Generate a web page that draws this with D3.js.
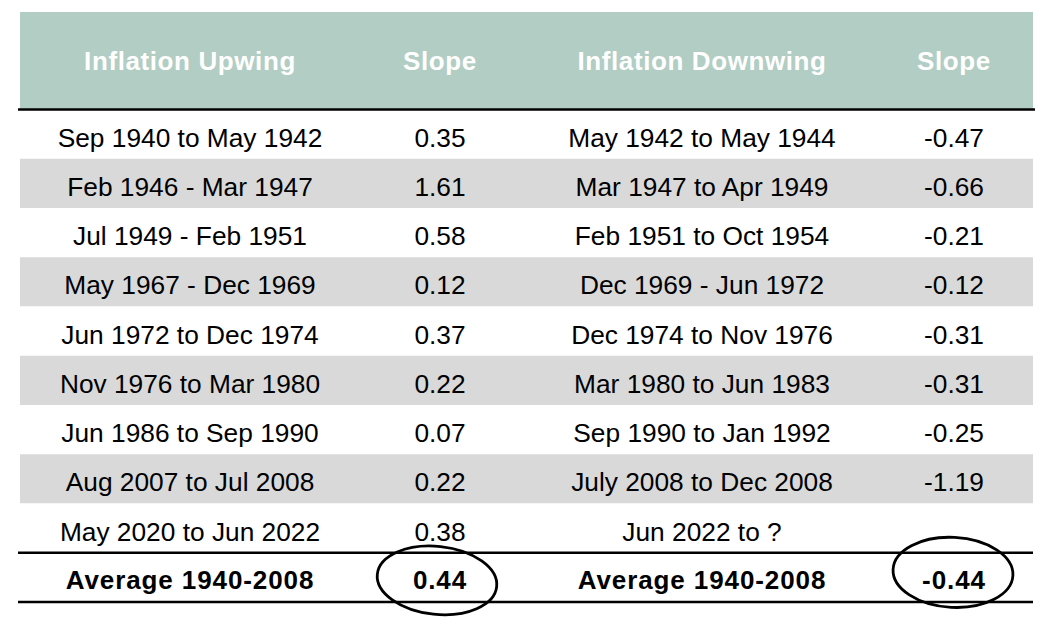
<!DOCTYPE html>
<html><head><meta charset="utf-8">
<script src="https://cdn.jsdelivr.net/npm/d3@7"></script>
<style>
html,body{margin:0;padding:0;background:#fff;}
svg{display:block;font-family:"Liberation Sans",Arial,sans-serif;}
</style></head>
<body><svg id="chart" width="1055" height="626"></svg>
<script>
const headers = ["Inflation Upwing", "Slope", "Inflation Downwing", "Slope"];
const upPeriods = ["Sep 1940 to May 1942","Feb 1946 - Mar 1947","Jul 1949 - Feb 1951","May 1967 - Dec 1969","Jun 1972 to Dec 1974","Nov 1976 to Mar 1980","Jun 1986 to Sep 1990","Aug 2007 to Jul 2008","May 2020 to Jun 2022"];
const upSlopes = ["0.35","1.61","0.58","0.12","0.37","0.22","0.07","0.22","0.38"];
const downPeriods = ["May 1942 to May 1944","Mar 1947 to Apr 1949","Feb 1951 to Oct 1954","Dec 1969 - Jun 1972","Dec 1974 to Nov 1976","Mar 1980 to Jun 1983","Sep 1990 to Jan 1992","July 2008 to Dec 2008","Jun 2022 to ?"];
const downSlopes = ["-0.47","-0.66","-0.21","-0.12","-0.31","-0.31","-0.25","-1.19",""];
const averageRow = ["Average 1940-2008","0.44","Average 1940-2008","-0.44"];

const svg = d3.select("#chart");
const left = 20, right = 1033;
const colKeys = ["c0","c1","c2","c3"];
const colX = d3.scaleOrdinal().domain(colKeys).range([190, 440, 702, 954]);

const rows = upPeriods.map((d,i)=>[d, upSlopes[i], downPeriods[i], downSlopes[i]]);
const nRows = rows.length + 1;
const y = d3.scaleBand().domain(d3.range(nRows)).range([109.5, 602]).padding(0);

// header
svg.append("rect").attr("x",left).attr("y",12).attr("width",right-left).attr("height",97).attr("fill","#b2cdc3");
svg.selectAll("text.hdr").data(headers).join("text").attr("class","hdr")
  .attr("x",(d,i)=>colX(colKeys[i])).attr("y",61).attr("text-anchor","middle").attr("dominant-baseline","central")
  .attr("font-size",26).attr("font-weight","bold").attr("fill","#ffffff").attr("letter-spacing",0.6).text(d=>d);

// bands
svg.selectAll("rect.band").data(rows).join("rect").attr("class","band")
  .attr("x",left).attr("width",right-left)
  .attr("y",(d,i)=>y(i)).attr("height",y.bandwidth())
  .attr("fill",(d,i)=> i%2===1 ? "#d9d9d9" : "#ffffff");

// body text
rows.forEach((r,i)=>{
  svg.selectAll(null).data(r).join("text")
    .attr("x",(d,j)=>colX(colKeys[j])).attr("y",y(i)+y.bandwidth()/2+3.5)
    .attr("text-anchor","middle").attr("dominant-baseline","central")
    .attr("font-size",26.3).attr("fill","#000").text(d=>d);
});

// average row
const ai = rows.length;
svg.selectAll("text.avg").data(averageRow).join("text").attr("class","avg")
  .attr("x",(d,j)=>colX(colKeys[j])).attr("y",y(ai)+y.bandwidth()/2+3)
  .attr("text-anchor","middle").attr("dominant-baseline","central")
  .attr("font-size",26).attr("font-weight","bold").attr("letter-spacing",0.9).attr("fill","#000").text(d=>d);

// rules
[y(0), y(ai), y(ai)+y.bandwidth()].forEach((yy,k)=>{
  svg.append("line").attr("x1",18).attr("x2",k===0?1035:1033).attr("y1",yy).attr("y2",yy)
    .attr("stroke","#000").attr("stroke-width",2.6);
});

// ellipses around averages
const avgCy = y(ai)+y.bandwidth()/2;
svg.append("ellipse").attr("cx",colX("c1")-3).attr("cy",avgCy+3).attr("rx",60).attr("ry",34)
  .attr("transform",`rotate(6,${colX("c1")-3},${avgCy+3})`)
  .attr("fill","none").attr("stroke","#000").attr("stroke-width",2.8);
svg.append("ellipse").attr("cx",colX("c3")-1).attr("cy",avgCy-5).attr("rx",60).attr("ry",35)
  .attr("transform",`rotate(3,${colX("c3")-1},${avgCy-5})`)
  .attr("fill","none").attr("stroke","#000").attr("stroke-width",2.8);
</script></body></html>
